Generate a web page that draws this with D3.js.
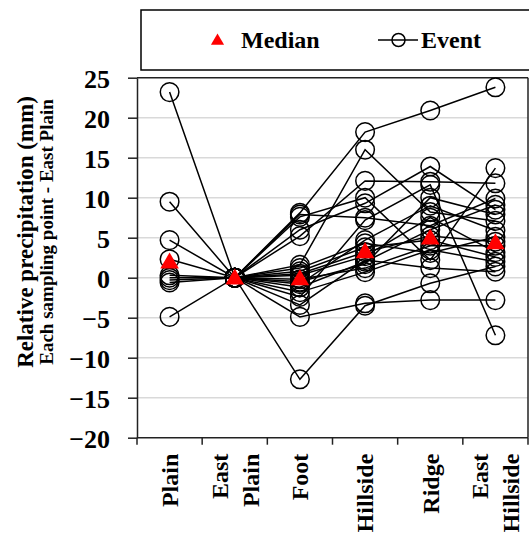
<!DOCTYPE html>
<html><head><meta charset="utf-8">
<script src="https://cdn.jsdelivr.net/npm/d3@7"></script>
<style>body{margin:0;background:#fff}svg{display:block}text{font-family:"Liberation Serif","Times New Roman",serif;font-weight:bold}</style>
</head><body><svg id="c" width="529" height="536"></svg>
<script>
const categories = ["Plain","East Plain","Foot","Hillside","Ridge","East Hillside"];
const categoryLines = [["Plain"],["East","Plain"],["Foot"],["Hillside"],["Ridge"],["East","Hillside"]];
const yTicks = [25,20,15,10,5,0,-5,-10,-15,-20];
const medians = [2.0, 0.0, -0.1, 3.3, 5.0, 4.4];
// each event: values at Plain, East Plain, Foot, Hillside, Ridge, East Hillside
const events = [
  [23.2, 0, 1.2, 4.3, 3.1, 5.1],
  [9.5, 0, 5.2, 12.1, 12.0, 11.8],
  [4.7, 0, -1.2, 2.0, 6.0, 9.1],
  [2.3, 0, 0.8, 3.8, 4.7, 2.6],
  [0.3, 0, 8.1, 18.2, 20.9, 23.8],
  [-0.3, 0, -12.7, -3.5, -0.7, 1.4],
  [-0.6, 0, -4.9, -3.2, -2.8, -2.8],
  [-4.9, 0, -0.2, 1.2, 4.0, 4.0],
  [0.0, 0, 1.6, 16.0, 8.2, 7.1],
  [null, 0, 7.6, 10.0, 2.2, 13.7],
  [null, 0, 6.0, 9.3, 13.9, 8.5],
  [null, 0, -2.4, 7.2, 11.6, -7.2],
  [null, 0, -0.8, 4.7, 9.0, 5.9],
  [null, 0, 0.3, 2.7, 7.5, 3.2],
  [null, 0, -1.8, 0.7, 3.5, 2.0],
  [null, 0, -3.4, 2.2, 1.2, 0.75],
  [null, 0, 7.9, 7.5, 6.5, 9.9],
  [null, 0, 0.5, 3.2, 5.2, 4.5],
  [null, 0, -0.5, 1.7, 10.0, 7.9]
];
const legendLabels = ["Median","Event"];

const svg = d3.select("#c");
const L=137, R=528, T=77.7, B=437.7;
const x = d3.scaleBand().domain(categories).range([L,R]);
const y = d3.scaleLinear().domain([-20,25]).range([B,T]);
const cx = c => x(c) + x.bandwidth()/2;

// gridlines
svg.append("g").selectAll("line").data(yTicks.filter(t=>t!==25 && t!==-20)).join("line")
  .attr("x1",L).attr("x2",R).attr("y1",d=>y(d)).attr("y2",d=>y(d))
  .attr("stroke","#d9d9d9").attr("stroke-width",1.5);

// frame top/right
svg.append("line").attr("x1",L).attr("x2",R).attr("y1",T).attr("y2",T).attr("stroke","#222").attr("stroke-width",1.5);
svg.append("line").attr("x1",R).attr("x2",R).attr("y1",T).attr("y2",B).attr("stroke","#222").attr("stroke-width",1.5);

// y axis
const yAx = svg.append("g").attr("transform",`translate(${L},0)`)
  .call(d3.axisLeft(y).tickValues(yTicks).tickSize(9).tickSizeOuter(0).tickFormat(d3.format("d")));
yAx.select(".domain").attr("stroke","#222").attr("stroke-width",1.5);
yAx.selectAll(".tick line").attr("stroke","#222").attr("stroke-width",1.5);
yAx.selectAll(".tick text").attr("x",-27).attr("dy","0.36em").attr("font-size",26)
  .attr("font-family","Liberation Serif").attr("font-weight","bold").attr("fill","#000");

// x axis with ticks at band edges
const xAx = svg.append("g").attr("transform",`translate(0,${B})`);
xAx.append("line").attr("x1",L).attr("x2",R).attr("stroke","#222").attr("stroke-width",1.5);
const edges = categories.map(c=>x(c)).concat([R]);
xAx.selectAll("line.t").data(edges).join("line").attr("class","t")
  .attr("x1",d=>d).attr("x2",d=>d).attr("y1",0).attr("y2",7).attr("stroke","#222").attr("stroke-width",1.5);
categories.forEach((c,i)=>{
  const lines = categoryLines[i];
  const t = xAx.append("text").attr("transform",`translate(${cx(c)},16) rotate(-90)`)
    .attr("text-anchor","end").attr("font-size",24).attr("fill","#000");
  lines.forEach((ln,j)=>{
    const dy = lines.length===1 ? 0.35 : (j===0 ? -0.3 : 1.0);
    t.append("tspan").attr("x",0).attr("y",0).attr("dy",dy+"em").text(ln);
  });
});

// y title
svg.append("text").attr("transform","translate(33,232) rotate(-90)").attr("text-anchor","middle")
  .attr("font-size",23).attr("fill","#000").text("Relative precipitation (mm)");
svg.append("text").attr("transform","translate(53,232) rotate(-90)").attr("text-anchor","middle")
  .attr("font-size",19).attr("fill","#000").text("Each sampling point - East Plain");

// event lines
const line = d3.line().defined(d=>d.v!==null).x(d=>cx(d.c)).y(d=>y(d.v));
const ev = events.map(e=>e.map((v,i)=>({c:categories[i],v})));
svg.append("g").selectAll("path").data(ev).join("path").attr("d",line)
  .attr("fill","none").attr("stroke","#000").attr("stroke-width",1.5);
svg.append("g").selectAll("circle").data(ev.flat().filter(d=>d.v!==null)).join("circle")
  .attr("cx",d=>cx(d.c)).attr("cy",d=>y(d.v)).attr("r",9.3)
  .attr("fill","none").attr("stroke","#000").attr("stroke-width",1.5);

// medians
const tri = d3.symbol().type(d3.symbolTriangle).size(150);
svg.append("g").selectAll("path").data(medians.map((v,i)=>({c:categories[i],v}))).join("path")
  .attr("d",tri).attr("transform",d=>`translate(${cx(d.c)},${y(d.v)+1.5})`).attr("fill","#ff0000");

// legend
const lg = svg.append("g");
lg.append("rect").attr("x",141).attr("y",10).attr("width",420).attr("height",60)
  .attr("fill","#fff").attr("stroke","#000").attr("stroke-width",1.5);
lg.append("path").attr("d",d3.symbol().type(d3.symbolTriangle).size(75)).attr("transform","translate(217.5,41)").attr("fill","#ff0000");
lg.append("text").attr("x",241).attr("y",48).attr("font-size",24).attr("fill","#000").text(legendLabels[0]);
lg.append("line").attr("x1",378).attr("x2",418).attr("y1",40).attr("y2",40).attr("stroke","#000").attr("stroke-width",1.5);
lg.append("circle").attr("cx",398.5).attr("cy",40).attr("r",6.5).attr("fill","none").attr("stroke","#000").attr("stroke-width",1.5);
lg.append("text").attr("x",421).attr("y",48).attr("font-size",24).attr("fill","#000").text(legendLabels[1]);
</script></body></html>
